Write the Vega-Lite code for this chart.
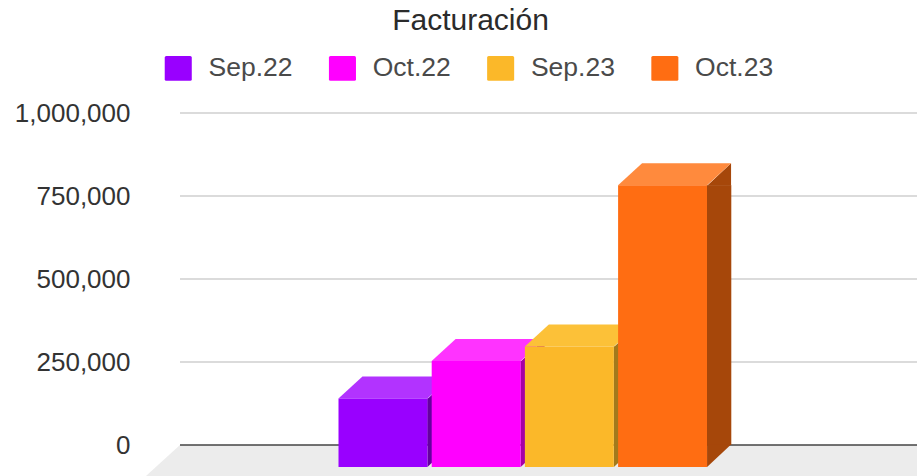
{
"$schema":"https://vega.github.io/schema/vega-lite/v6.json",
"width":737,"height":332,
"autosize":{"type":"none"},
"padding":{"left":180,"top":113,"right":0,"bottom":31},
"background":"white",
"title":{"text":"Facturación","fontSize":30,"font":"Liberation Sans","fontWeight":"normal","color":"#2b2b2b","anchor":"middle","dx":-78,"offset":19},
"config":{"view":{"stroke":null}},
"data":{"values":[
{"periodo":"Sep.22","facturacion":206000},
{"periodo":"Oct.22","facturacion":319000},
{"periodo":"Sep.23","facturacion":363000},
{"periodo":"Oct.23","facturacion":849000}
]},
"encoding":{
"x":{"field":"periodo","type":"nominal","title":null,"sort":null,
"scale":{"domain":["Sep.22","Oct.22","Sep.23","Oct.23"],"range":[158.5,527],"paddingInner":0.046,"paddingOuter":0},
"axis":null},
"y":{"field":"facturacion","type":"quantitative","title":null,
"scale":{"domain":[0,1000000],"nice":false},
"axis":{"values":[0,250000,500000,750000,1000000],"format":",.0f","domain":false,"ticks":false,"grid":false,"labelPadding":50,"labelFont":"Liberation Sans","labelFontSize":26,"labelColor":"#333333"}}
},
"layer":[
{"data":{"values":[{"marca":250000},{"marca":500000},{"marca":750000},{"marca":1000000}]},"mark":{"type":"rule","color":"#cfcfcf","strokeWidth":1.6},
 "encoding":{"x":{"value":0},"x2":{"value":737},"y":{"field":"marca","type":"quantitative"}}},
{"data":{"values":[{"piso":0}]},"mark":{"type":"point","filled":true,"size":4,"opacity":1,"fill":"#ececec","strokeWidth":0,"shape":"M-203,0 L534,0 L534,31 L-237,31 Z"},
 "encoding":{"x":{"datum":"Sep.22"},"y":{"field":"piso","type":"quantitative"}}},
{"data":{"values":[{"piso":0}]},"mark":{"type":"rule","color":"#444444","strokeWidth":1.6},
 "encoding":{"x":{"value":0},"x2":{"value":737},"y":{"field":"piso","type":"quantitative"}}},
{"mark":{"type":"bar","width":24.5,"xOffset":56.5,"yOffset":22,"y2Offset":0,"opacity":1},
 "encoding":{"y2":{"datum":0},"color":{"field":"periodo","type":"nominal","legend":null,"scale":{"domain":["Sep.22","Oct.22","Sep.23","Oct.23"],"range":["#65009f","#a600a6","#a37a1c","#a6470a"]}}}},
{"mark":{"type":"point","filled":true,"size":4,"opacity":1,"strokeWidth":0,"shape":"M44.5,22.5 L68.5,0 L68.5,22.5 Z"},
 "encoding":{"color":{"field":"periodo","type":"nominal","legend":null,"scale":{"domain":["Sep.22","Oct.22","Sep.23","Oct.23"],"range":["#65009f","#a600a6","#a37a1c","#a6470a"]}}}},
{"mark":{"type":"point","filled":true,"size":4,"opacity":1,"strokeWidth":0,"shape":"M44.5,-0.5 L68.5,-0.5 L44.5,22 Z"},
 "encoding":{"y":{"datum":0},"color":{"field":"periodo","type":"nominal","legend":null,"scale":{"domain":["Sep.22","Oct.22","Sep.23","Oct.23"],"range":["#65009f","#a600a6","#a37a1c","#a6470a"]}}}},
{"mark":{"type":"point","filled":true,"size":4,"opacity":1,"strokeWidth":0,"shape":"M-44.5,22 L-20.5,0 L68.5,0 L44.5,22 Z"},
 "encoding":{"color":{"field":"periodo","type":"nominal","legend":null,"scale":{"domain":["Sep.22","Oct.22","Sep.23","Oct.23"],"range":["#b233ff","#ff33ff","#fcc138","#ff8a3d"]}}}},
{"mark":{"type":"bar","yOffset":22,"y2Offset":22,"opacity":1},
 "encoding":{"y2":{"datum":0},"color":{"field":"periodo","type":"nominal","title":null,
  "scale":{"domain":["Sep.22","Oct.22","Sep.23","Oct.23"],"range":["#9900ff","#ff00ff","#fbb829","#ff6d12"]},
  "legend":{"orient":"none","legendX":-15,"legendY":-58,"direction":"horizontal","columns":4,"padding":0,"columnPadding":35.2,"labelOffset":17,"labelFont":"Liberation Sans","labelFontSize":26.5,"labelColor":"#4a4a4a","symbolStrokeWidth":0,"symbolOpacity":1,"symbolSize":676,"symbolType":"M-0.92,-0.96 H0.92 Q1.04,-0.96 1.04,-0.84 V0.84 Q1.04,0.96 0.92,0.96 H-0.92 Q-1.04,0.96 -1.04,0.84 V-0.84 Q-1.04,-0.96 -0.92,-0.96 Z"}}}}
],
"resolve":{"scale":{"color":"independent"}}
}
